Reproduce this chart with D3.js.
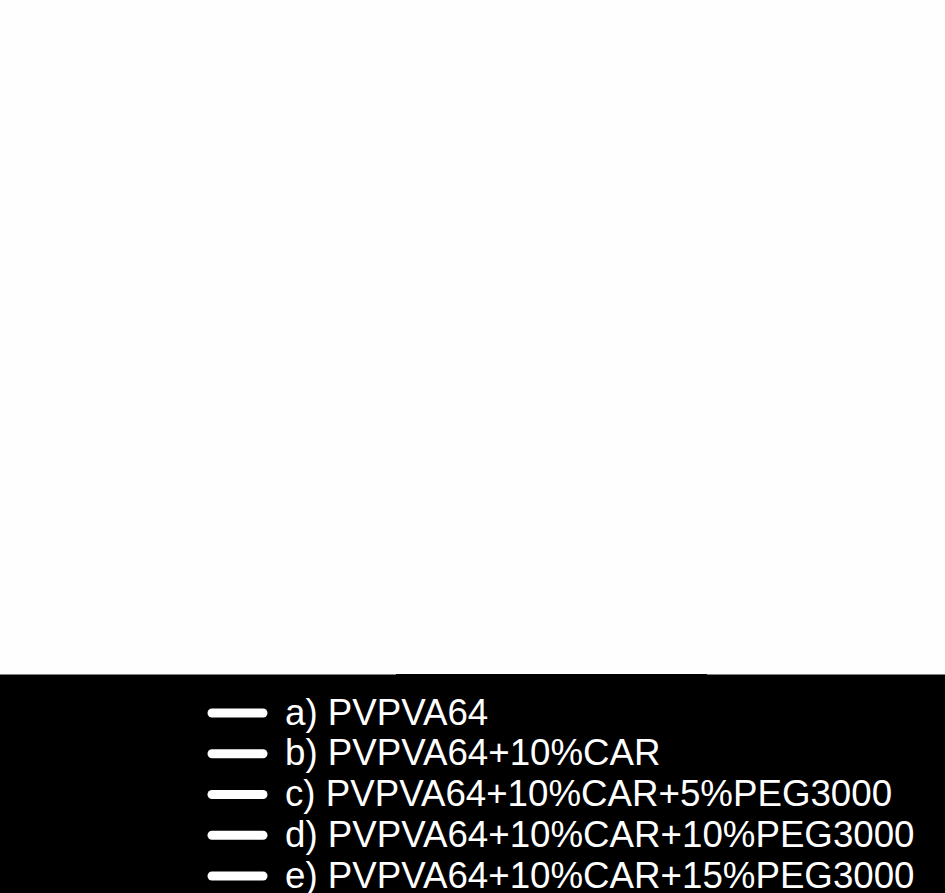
<!DOCTYPE html>
<html>
<head>
    <meta charset="utf-8" />
    <title>PVPVA64 legend chart</title>
    <style>
        html, body { margin: 0; padding: 0; background: #fff; }
        #chart { width: 945px; height: 893px; }
        svg { display: block; }
    </style>
</head>
<body>
    <div id="chart"></div>
    <script src="https://cdnjs.cloudflare.com/ajax/libs/d3/7.8.5/d3.min.js"></script>
    <script>
        // series shown in the legend
        var seriesKeys = ['a', 'b', 'c', 'd', 'e']
        var seriesNames = [
            'a) PVPVA64',
            'b) PVPVA64+10%CAR',
            'c) PVPVA64+10%CAR+5%PEG3000',
            'd) PVPVA64+10%CAR+10%PEG3000',
            'e) PVPVA64+10%CAR+15%PEG3000'
        ]
        var seriesColors = ['#ffffff', '#ffffff', '#ffffff', '#ffffff', '#ffffff']

        var width = 945
        var height = 893
        var legendTop = 674

        var svg = d3.select('#chart')
            .append('svg')
            .attr('width', width)
            .attr('height', height)

        // plot area (empty, white)
        svg.append('rect')
            .attr('width', width)
            .attr('height', legendTop)
            .attr('fill', '#fefefe')

        // black legend panel
        svg.append('rect')
            .attr('y', legendTop)
            .attr('width', width)
            .attr('height', height - legendTop)
            .attr('fill', '#000')

        // thin grey edge on top of the panel (broken in the middle)
        svg.append('line')
            .attr('x1', 0).attr('x2', 396)
            .attr('y1', legendTop + 0.5).attr('y2', legendTop + 0.5)
            .attr('stroke', '#808080')
        svg.append('line')
            .attr('x1', 707).attr('x2', width)
            .attr('y1', legendTop + 0.5).attr('y2', legendTop + 0.5)
            .attr('stroke', '#808080')

        var rowScale = d3.scalePoint()
            .domain(seriesKeys)
            .range([713, 876])

        var colorScale = d3.scaleOrdinal()
            .domain(seriesKeys)
            .range(seriesColors)

        var rows = svg.append('g')
            .selectAll('g')
            .data(seriesKeys)
            .enter().append('g')
            .attr('transform', function (d) { return 'translate(0,' + rowScale(d) + ')' })

        rows.append('line')
            .attr('x1', 212)
            .attr('x2', 263)
            .attr('stroke', function (d) { return colorScale(d) })
            .attr('stroke-width', 9)
            .attr('stroke-linecap', 'round')

        rows.append('text')
            .attr('x', 285)
            .attr('y', 11.5)
            .attr('fill', '#fff')
            .style('font-family', '"Liberation Sans", Arial, sans-serif')
            .style('font-size', '36.7px')
            .text(function (d, i) { return seriesNames[i] })
    </script>
</body>
</html>
